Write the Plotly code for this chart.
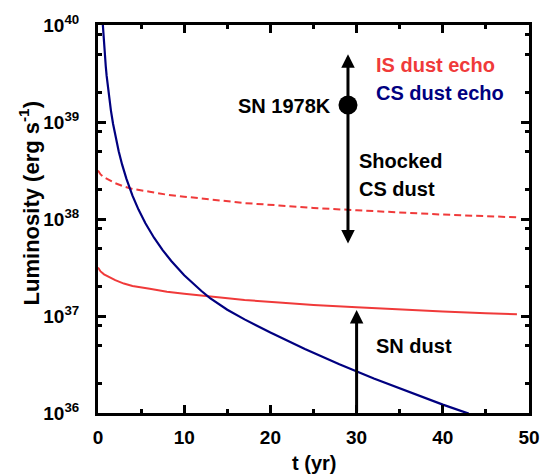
import numpy as np
import plotly.graph_objects as go

# ---- data ----
cs_t = [0.55, 0.6, 0.7, 0.8, 0.9, 1.0, 1.15, 1.3, 1.5, 1.75, 2.0, 2.4, 2.8, 3.3, 4.0, 4.7,
        5.5, 6.5, 7.5, 8.5, 10, 11, 12, 13, 14, 15, 17, 20, 24, 28, 32, 36, 40, 43]
cs_L = [1.04e40, 8.7e39, 6.3e39, 4.8e39, 3.76e39, 3.0e39, 2.27e39, 1.76e39, 1.31e39, 9.55e38,
        7.26e38, 4.99e38, 3.63e38, 2.59e38, 1.74e38, 1.25e38, 9.04e37, 6.41e37, 4.78e37, 3.69e37,
        2.63e37, 2.17e37, 1.81e37, 1.53e37, 1.324e37, 1.161e37, 9.23e36, 6.76e36, 4.57e36, 3.18e36,
        2.27e36, 1.65e36, 1.22e36, 0.986e36]

is_t = [0, 0.3, 0.7, 1.3, 2, 3, 4, 6, 8, 10, 13.3, 17, 21, 25, 30, 35, 40, 45, 48.6]
is_L = [3.16e37, 2.88e37, 2.69e37, 2.51e37, 2.34e37, 2.16e37, 2.04e37, 1.91e37, 1.78e37,
        1.70e37, 1.57e37, 1.46e37, 1.38e37, 1.30e37, 1.23e37, 1.16e37, 1.11e37, 1.07e37, 1.04e37]
is_hi_L = [3.16e38, 2.88e38, 2.69e38, 2.51e38, 2.34e38, 2.16e38, 2.04e38, 1.91e38, 1.78e38,
           1.70e38, 1.57e38, 1.46e38, 1.38e38, 1.30e38, 1.23e38, 1.16e38, 1.11e38, 1.07e38, 1.04e38]

sn1978k_t = [29]
sn1978k_L = [1.5e39]
shocked_t = 29
shocked_range = [5.0e39, 5.4e37]   # double arrow ends (top, bottom)
sndust_t = 30
sndust_range = [1.0e36, 1.15e37]   # arrow from axis up to tip

x_ticks = [0, 10, 20, 30, 40, 50]
y_ticks = [1e36, 1e37, 1e38, 1e39, 1e40]
y_ticktext = ["10<sup>36</sup>", "10<sup>37</sup>", "10<sup>38</sup>", "10<sup>39</sup>", "10<sup>40</sup>"]
y_minor = [m * 10.0 ** d for d in range(36, 40) for m in (2, 5, 8)]

RED = "#F03A3A"
NAVY = "#000080"
FONT = "Liberation Sans, Arial, sans-serif"

fig = go.Figure()
fig.add_trace(go.Scatter(x=is_t, y=is_hi_L, mode="lines",
                         line=dict(color=RED, width=2, dash="7px,4px"), hoverinfo="skip"))
fig.add_trace(go.Scatter(x=is_t, y=is_L, mode="lines",
                         line=dict(color=RED, width=2), hoverinfo="skip"))
fig.add_trace(go.Scatter(x=cs_t, y=cs_L, mode="lines",
                         line=dict(color=NAVY, width=2.2), hoverinfo="skip"))
fig.add_trace(go.Scatter(x=sn1978k_t, y=sn1978k_L, mode="markers",
                         marker=dict(color="black", size=19), hoverinfo="skip"))

annotations = []
# double arrow (shocked CS dust)
annotations.append(dict(x=shocked_t, y=np.log10(shocked_range[0]), ax=shocked_t,
                        ay=np.log10(shocked_range[1]), xref="x", yref="y", axref="x", ayref="y",
                        text="", showarrow=True, arrowhead=2, startarrowhead=2, arrowside="end+start",
                        arrowsize=0.9, startarrowsize=0.9, arrowwidth=3, arrowcolor="black"))
# single arrow (SN dust)
annotations.append(dict(x=sndust_t, y=np.log10(sndust_range[1]), ax=sndust_t,
                        ay=np.log10(sndust_range[0]), xref="x", yref="y", axref="x", ayref="y",
                        text="", showarrow=True, arrowhead=2, arrowsize=0.9, arrowwidth=3,
                        arrowcolor="black"))

def label(text, x, y, color="black", xanchor="left"):
    return dict(text=text, x=x, y=y, xref="x", yref="y", showarrow=False,
                xanchor=xanchor, yanchor="middle",
                font=dict(family=FONT, size=20, color=color, weight="bold"))

annotations += [
    label("IS dust echo", 32.0, 39.59, RED),
    label("CS dust echo", 32.0, 39.30, NAVY),
    label("SN 1978K", 27.3, 39.17, xanchor="right"),
    label("Shocked", 30.0, 38.60),
    label("CS dust", 30.0, 38.31),
    label("SN dust", 32.0, 36.69),
]
# axis titles
annotations.append(dict(text="Luminosity (erg s<sup>-1</sup>)", x=-0.158, y=0.54,
                        xref="paper", yref="paper", textangle=-90, showarrow=False,
                        xanchor="center", yanchor="middle",
                        font=dict(family=FONT, size=22, color="black", weight="bold")))
annotations.append(dict(text="t (yr)", x=0.5, y=-0.128, xref="paper", yref="paper",
                        showarrow=False, xanchor="center", yanchor="middle",
                        font=dict(family=FONT, size=20, color="black", weight="bold")))

fig.update_layout(
    width=552, height=476,
    margin=dict(l=98, r=22, t=18, b=63),
    paper_bgcolor="white", plot_bgcolor="white",
    showlegend=False,
    annotations=annotations,
)
fig.update_xaxes(range=[0, 50], tickvals=x_ticks, ticks="inside", ticklen=8, tickwidth=2.5,
                 tickcolor="black", showline=True, linewidth=3, linecolor="black", mirror="ticks",
                 showgrid=False, zeroline=False, ticklabelstandoff=5,
                 minor=dict(dtick=5, tick0=0, ticks="inside", ticklen=4, tickwidth=2.5, tickcolor="black"),
                 tickfont=dict(family=FONT, size=19, color="black", weight="bold"))
fig.update_yaxes(type="log", range=[36, 40], tickvals=y_ticks, ticktext=y_ticktext,
                 ticks="inside", ticklen=8, tickwidth=2.5, tickcolor="black",
                 showline=True, linewidth=3, linecolor="black", mirror="ticks",
                 showgrid=False, zeroline=False, ticklabelstandoff=12,
                 minor=dict(tickvals=y_minor, ticks="inside", ticklen=4, tickwidth=2.5, tickcolor="black"),
                 tickfont=dict(family=FONT, size=19, color="black", weight="bold"))

fig.write_html("out.html", config={"displayModeBar": False},
               post_script="document.body.style.margin='0';document.body.style.overflow='hidden';")
